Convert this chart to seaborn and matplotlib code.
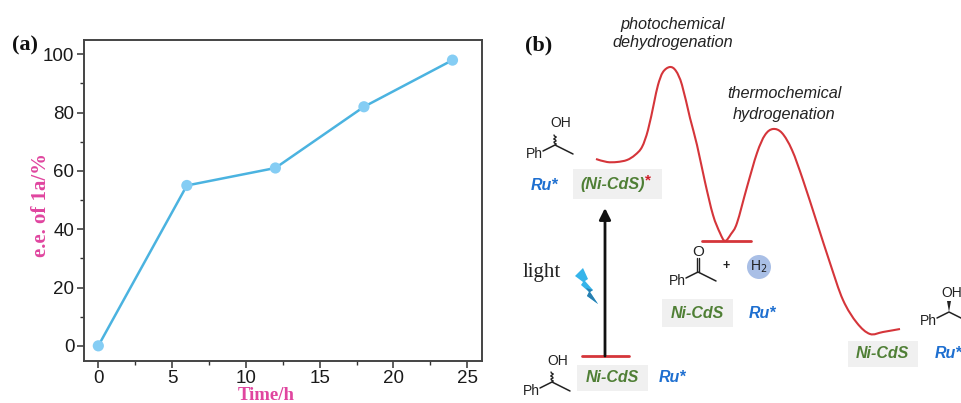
import numpy as np
import pandas as pd
import matplotlib
matplotlib.use("Agg")
import matplotlib.pyplot as plt
import seaborn as sns
from matplotlib.patches import Circle, Rectangle, Polygon, PathPatch
from matplotlib.path import Path

time_h = [0, 6, 12, 18, 24]
ee_values = [0, 55, 61, 82, 98]
x_ticks = [0, 5, 10, 15, 20, 25]
y_ticks = [0, 20, 40, 60, 80, 100]

curve_x = [596, 607, 617, 627, 635, 642, 648, 654, 658, 663, 670, 676, 682, 690, 697, 705, 713, 720, 725, 731, 737, 747, 757, 765, 773, 782, 792, 803, 817, 830, 843, 857, 870, 883, 900]
curve_y = [159, 162, 162, 160, 155, 147, 130, 103, 85, 72, 67, 71, 85, 118, 145, 182, 215, 233, 241, 234, 223, 187, 153, 135, 129, 133, 150, 180, 223, 263, 300, 323, 334, 332, 329]

sns.set_theme(style="ticks")
plt.rcParams["font.family"] = ["Liberation Sans", "DejaVu Sans"]
W, H = 962, 403
fig = plt.figure(figsize=(W / 100, H / 100), dpi=100)


def axrect(l, t, r, b):
    return [l / W, 1 - b / H, (r - l) / W, (b - t) / H]


ax = fig.add_axes(axrect(84, 40, 482, 360.7))
df = pd.DataFrame({"t": time_h, "ee": ee_values})
sns.lineplot(data=df, x="t", y="ee", ax=ax, color="#4BB3E0", lw=1.8, zorder=2)
sns.scatterplot(data=df, x="t", y="ee", ax=ax, color="#85CDF4", s=65, edgecolor="none", zorder=3, clip_on=False)
ax.set_xlim(-0.97, 26)
ax.set_ylim(-5.1, 104.9)
ax.set_xticks(x_ticks)
ax.set_yticks(y_ticks)
ax.set_xticks([2.5, 7.5, 12.5, 17.5, 22.5], minor=True)
ax.set_yticks([10, 30, 50, 70, 90], minor=True)
ax.tick_params(which="major", length=5, width=1.1, labelsize=13.5, pad=2, color="#333333", labelcolor="#1a1a1a")
ax.tick_params(which="minor", length=3, width=1, color="#333333")
for s in ax.spines.values():
    s.set_visible(True)
    s.set_linewidth(1.4)
    s.set_color("#444444")
ax.set_xlabel("")
ax.set_ylabel("")

o = fig.add_axes([0, 0, 1, 1], zorder=5)
o.set_xlim(0, W)
o.set_ylim(H, 0)
o.axis("off")
o.patch.set_alpha(0)

SERIF = "Liberation Serif"
PINK = "#E0459F"
GREEN = "#4F7F35"
BLUE = "#1E6FD0"
GREY = "#F0F0F0"
RED = "#D5353A"
DARK = "#222222"

o.text(12, 45, "(a)", family=SERIF, weight="bold", size=16, va="center", color="#111111")
o.text(525, 45, "(b)", family=SERIF, weight="bold", size=16, va="center", color="#111111")
o.text(266, 395.5, "Time/h", family=SERIF, weight="bold", size=13.5, ha="center", va="center", color=PINK)
o.text(41, 205, "e.e. of 1a/%", family=SERIF, weight="bold", size=15, rotation=90, ha="center", va="center", color=PINK)
o.text(673, 24, "photochemical", style="italic", size=11.7, ha="center", va="center", color=DARK)
o.text(673, 43, "dehydrogenation", style="italic", size=11.7, ha="center", va="center", color=DARK)
o.text(784, 94, "thermochemical", style="italic", size=11.7, ha="center", va="center", color=DARK)
o.text(784, 114, "hydrogenation", style="italic", size=11.7, ha="center", va="center", color=DARK)

# energy profile: smooth Bezier path through the points
P = np.column_stack([curve_x, curve_y]).astype(float)
verts = [P[0]]
codes = [Path.MOVETO]
for i in range(len(P) - 1):
    p0 = P[max(i - 1, 0)]
    p1, p2 = P[i], P[i + 1]
    p3 = P[min(i + 2, len(P) - 1)]
    verts += [p1 + (p2 - p0) / 6, p2 - (p3 - p1) / 6, p2]
    codes += [Path.CURVE4] * 3
o.add_patch(PathPatch(Path(verts, codes), fc="none", ec=RED, lw=1.5))

o.plot([702, 751], [241, 241], color=RED, lw=2)
o.plot([582, 629], [356, 356], color=RED, lw=2)
o.annotate("", xy=(605, 208), xytext=(605, 356), arrowprops=dict(arrowstyle="-|>", color="#111111", lw=2, mutation_scale=17, shrinkA=0, shrinkB=0))
o.text(523, 272, "light", family=SERIF, size=15, va="center", color=DARK)

bolt_whole = [(575, 276), (583, 268), (588, 279), (585, 281), (593, 290), (590, 292), (598, 304), (587, 296), (589, 292), (581, 285), (583, 282)]
bolt_tail = [(593, 290), (590, 292), (598, 304), (587, 296), (589, 292), (586, 288)]
o.add_patch(Polygon(bolt_whole, closed=True, color="#35B4EA", lw=0))
o.add_patch(Polygon(bolt_tail, closed=True, color="#2A7FB0", lw=0))

for l, t, r, b in [(573, 169, 662, 199), (662, 299, 733, 327), (577, 365, 648, 391), (848, 341, 918, 367)]:
    o.add_patch(Rectangle((l, t), r - l, b - t, color=GREY, lw=0, zorder=0))


def label(x, y, s, c, size=11.5):
    o.text(x, y, s, color=c, style="italic", weight="bold", size=size, ha="center", va="center")


label(613, 185, "(Ni-CdS)", GREEN, 11.6)
o.text(648, 180, "*", color="#D0202A", weight="bold", size=11, ha="center", va="center")
label(697, 313, "Ni-CdS", GREEN)
label(612, 378, "Ni-CdS", GREEN)
label(882, 354, "Ni-CdS", GREEN)
label(544, 185, "Ru*", BLUE, 11.5)
label(762, 313, "Ru*", BLUE, 11.5)
label(672, 378, "Ru*", BLUE, 11.5)
label(948, 354, "Ru*", BLUE, 11.5)


def molecule(px, py, top, kind):
    """Small ketone/alcohol sketch; (px, py) is the centre carbon."""
    o.plot([px - 12, px, px + 18], [py + 6, py, py + 9], color=DARK, lw=1.1)
    o.text(px - 21, py + 9, "Ph", size=10, ha="center", va="center", color=DARK)
    if kind == "wavy":
        ys = np.arange(0, 11, 1.0)
        o.plot(px + 1.3 * np.sin(ys * 1.8), py - ys, color=DARK, lw=1)
        o.text(px + 6, top, "OH", size=10, ha="center", va="center", color=DARK)
    elif kind == "wedge":
        o.add_patch(Polygon([(px, py), (px - 2, py - 11), (px + 2, py - 11)], color=DARK, lw=0))
        o.text(px + 3, top, "OH", size=10, ha="center", va="center", color=DARK)
    else:
        o.plot([px - 1.3, px - 1.3], [py, py - 14], color=DARK, lw=1)
        o.plot([px + 1.3, px + 1.3], [py, py - 14], color=DARK, lw=1)
        o.text(px, top, "O", size=11, ha="center", va="center", color=DARK)


molecule(555, 145, 123, "wavy")
molecule(552, 382, 361, "wavy")
molecule(698, 272, 252, "keto")
molecule(949, 312, 293, "wedge")

o.text(726, 266, "+", size=9, weight="bold", ha="center", va="center", color=DARK)
o.add_patch(Circle((759, 267), 12, color="#A9BFE6", lw=0))
o.text(759, 267, "H$_2$", size=10, ha="center", va="center", color=DARK)

fig.savefig("out.png", dpi=100, facecolor="white")
